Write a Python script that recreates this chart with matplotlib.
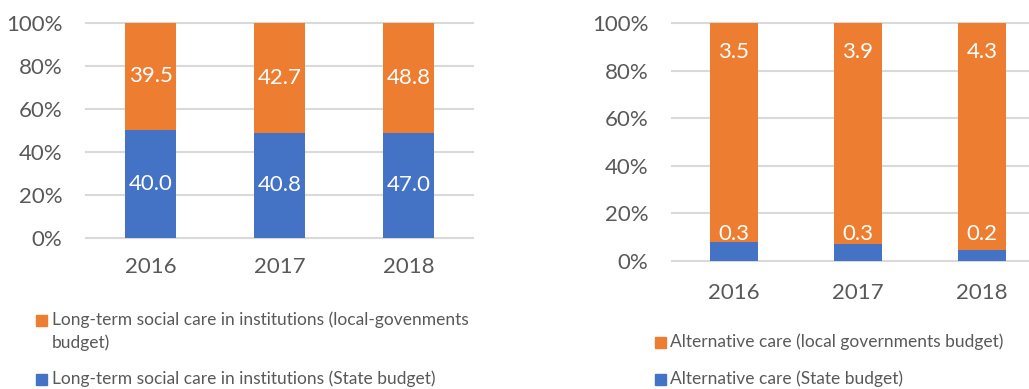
import matplotlib
matplotlib.use("Agg")
import matplotlib.pyplot as plt
from matplotlib.patches import Rectangle
import numpy as np

plt.rcParams['font.family'] = ['Lato', 'DejaVu Sans']

years = ['2016', '2017', '2018']

# Long-term social care in institutions
inst_local = [39.5, 42.7, 48.8]
inst_state = [40.0, 40.8, 47.0]

# Alternative care
alt_local = [3.5, 3.9, 4.3]
alt_state = [0.3, 0.3, 0.2]

ORANGE = '#ED7D31'
BLUE = '#4472C4'
GRID = '#D9D9D9'
TEXT = '#595959'

W, H = 1029, 389
fig = plt.figure(figsize=(W / 100, H / 100), dpi=100)


def px_axes(left, top, right, bottom):
    return fig.add_axes([left / W, 1 - bottom / H, (right - left) / W, (bottom - top) / H])


def style_axes(ax, xpad):
    ax.set_ylim(0, 1)
    ax.set_xlim(-0.5, 2.5)
    ax.set_yticks(np.linspace(0, 1, 6))
    ax.set_yticklabels([f'{int(round(v * 100))}%' for v in np.linspace(0, 1, 6)])
    ax.set_xticks(range(len(years)))
    ax.set_xticklabels(years)
    for s in ax.spines.values():
        s.set_visible(False)
    ax.tick_params(axis='y', length=0, pad=17, labelsize=16, labelcolor=TEXT)
    ax.tick_params(axis='x', length=0, pad=xpad, labelsize=16, labelcolor=TEXT)
    ax.yaxis.grid(True, color=GRID, linewidth=1.5)
    for gl in ax.get_ygridlines():
        gl.set_clip_on(False)
    ax.set_axisbelow(True)


def shares(a, b):
    a = np.asarray(a, float)
    b = np.asarray(b, float)
    tot = a + b
    return a / tot, b / tot


# ---- left chart ----
axL = px_axes(86, 23, 473, 238)
sL, lL = shares(inst_state, inst_local)
x = np.arange(len(years))
axL.bar(x, sL, width=0.40, color=BLUE, zorder=2)
axL.bar(x, lL, width=0.40, bottom=sL, color=ORANGE, zorder=2)
style_axes(axL, 14)
for i in range(len(years)):
    axL.text(x[i], sL[i] / 2, f'{inst_state[i]:.1f}', ha='center', va='center',
             color='white', fontsize=16, zorder=3)
    axL.text(x[i], sL[i] + lL[i] / 2, f'{inst_local[i]:.1f}', ha='center', va='center',
             color='white', fontsize=16, zorder=3)

# ---- right chart ----
axR = px_axes(672, 23, 1044, 261)
sR, lR = shares(alt_state, alt_local)
axR.bar(x, sR, width=0.395, color=BLUE, zorder=2)
axR.bar(x, lR, width=0.395, bottom=sR, color=ORANGE, zorder=2)
style_axes(axR, 16)
for i in range(len(years)):
    axR.annotate(f'{alt_local[i]:.1f}', (x[i], 1.0), xytext=(0, -21),
                 textcoords='offset points', ha='center', va='center',
                 color='white', fontsize=16, zorder=3)
    axR.annotate(f'{alt_state[i]:.1f}', (x[i], 0.0), xytext=(0, 19.5),
                 textcoords='offset points', ha='center', va='center',
                 color='white', fontsize=16, zorder=3)


# ---- legends ----
def legend_entry(x0, yc, color, label, xtext):
    fig.patches.append(Rectangle((x0 / W, 1 - (yc + 5.5) / H), 11 / W, 11 / H,
                                 transform=fig.transFigure, color=color))
    fig.text(xtext / W, 1 - yc / H, label, ha='left', va='center',
             fontsize=12.5, color=TEXT)


legend_entry(36, 320, ORANGE, 'Long-term social care in institutions (local-govenments', 52)
fig.text(52 / W, 1 - 343 / H, 'budget)', ha='left', va='center', fontsize=12.5, color=TEXT)
legend_entry(36, 379, BLUE, 'Long-term social care in institutions (State budget)', 52)

legend_entry(655, 342, ORANGE, 'Alternative care (local governments budget)', 670)
legend_entry(655, 379, BLUE, 'Alternative care (State budget)', 670)

fig.savefig('out.png', dpi=100)
